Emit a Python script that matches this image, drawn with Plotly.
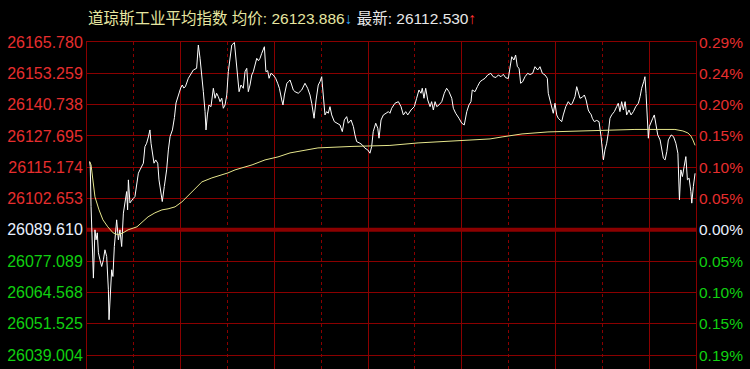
import plotly.graph_objects as go

# ---------------- data ----------------
index_name = "道琼斯工业平均指数"
prev_close = 26089.610
grid_step = 12.695
last_avg = 26123.886
last_price = 26112.530

# minutes since the 09:30 open (0..390)
price_minutes = [
    1.7, 2.1, 2.6, 3.4, 4.1, 5.1, 5.8, 6.6, 7.3, 8.3, 9.4, 10.5, 11.5, 12.6, 13.7, 14.1, 15.0, 15.8, 16.6, 17.5,
    19.0, 20.1, 21.1, 22.2, 23.3, 24.3, 25.4, 26.0, 26.5, 27.5, 28.6, 29.7, 30.7, 31.8, 32.9, 33.9, 35.0, 36.1,
    37.1, 38.2, 39.3, 40.3, 41.0, 41.8, 42.9, 44.0, 45.3, 46.1, 47.4, 48.2, 49.5, 51.0, 52.1, 53.2, 54.7, 56.0,
    57.0, 58.0, 59.0, 60.0, 61.0, 62.0, 63.0,
    64.9, 66.0, 68.1, 70.2, 71.3, 72.4, 73.4, 74.5, 75.6, 76.2, 77.1, 78.1, 79.4, 80.9, 82.0, 83.0, 84.1, 85.2,
    86.3, 87.3, 88.4, 89.5, 90.5, 91.6, 92.7, 94.4, 95.2, 96.5, 97.4, 98.6, 100.1, 101.2, 102.3, 103.3, 104.4,
    105.5, 106.5, 107.6, 108.7, 109.8, 110.8, 111.9, 113.6, 114.6, 115.7, 116.6, 117.8, 119.3, 120.8, 122.1,
    123.2, 124.7, 125.5, 126.4, 128.0, 129.0, 130.0,
    131.1, 132.1, 133.2, 135.3, 137.5, 139.6, 141.3, 142.8, 143.9, 145.4, 146.7, 148.1, 149.2, 150.3, 151.3,
    152.4, 153.5, 154.5, 155.6, 156.7, 158.4, 160.5, 162.0, 163.5, 164.8, 166.3, 167.3, 169.1, 170.6, 171.6,
    172.7, 174.8, 176.3, 178.0, 179.8, 181.2, 182.3, 183.3, 184.9, 186.2, 187.0, 188.3, 189.8, 191.5, 193.0, 194.0,
    195.1, 197.2, 199.4, 201.1, 202.6, 204.1, 205.4, 207.5, 209.6, 211.1, 212.6, 213.9, 214.7, 215.8, 216.9,
    218.2, 219.7, 220.7, 221.8, 222.9, 224.0, 225.4, 227.2, 228.8, 230.3, 231.8, 233.6, 234.6, 236.1, 238.2,
    240.0, 241.6, 243.2, 244.6, 245.9, 246.7, 248.5, 250.0, 251.7, 253.2, 254.9, 256.6,
    258.6, 260.1, 261.9, 263.4, 265.1, 266.6, 268.1, 269.8, 270.9, 272.0, 273.4, 274.5, 275.6, 276.7, 277.7,
    279.0, 280.5, 282.2, 283.7, 285.4, 286.9, 288.6, 290.1, 291.6, 293.3, 294.8, 295.4, 296.5, 297.6, 298.6,
    299.7, 300.8, 301.8, 302.9, 304.0, 305.0, 306.6, 308.2, 309.8, 310.8, 312.5, 313.6, 314.6, 315.7, 317.2,
    318.5, 319.6, 321.0, 322.1,
    322.8, 323.6, 324.9, 326.4, 327.9, 329.2, 330.0, 330.7, 331.7, 332.8, 333.8, 334.9, 336.0, 337.7, 339.2,
    340.2, 341.3, 342.4, 343.5, 344.6, 345.6, 347.1, 348.4, 349.9, 351.4, 353.1, 354.2, 355.2, 356.5, 357.3,
    358.0, 358.8, 359.5, 360.1, 361.2, 362.3, 363.3, 364.2, 365.5, 367.0, 368.1, 369.1, 370.2, 371.3, 372.3,
    374.1, 375.6, 377.1, 378.4, 379.4, 380.3, 381.3, 382.4, 383.5, 384.5, 385.6, 386.7, 387.3, 388.3, 389.4,
]
price_values = [
    26117.28, 26115.26, 26099.05, 26077.45, 26070.03, 26089.61, 26085.56, 26088.39, 26080.29, 26077.45,
    26074.74, 26077.45, 26081.51, 26078.79, 26065.30, 26053.14, 26063.96, 26073.40, 26070.69, 26082.84,
    26093.66, 26085.56, 26089.61, 26082.84, 26096.38, 26100.43, 26105.13, 26097.71, 26109.87, 26100.55,
    26101.77, 26102.40, 26103.10, 26108.65, 26112.58, 26113.92, 26115.26, 26116.64, 26123.36, 26124.74,
    26127.29, 26130.13, 26124.74, 26120.69, 26116.64, 26117.97, 26116.64, 26109.87, 26104.48, 26101.08,
    26107.16, 26113.92, 26122.03, 26127.41, 26130.13, 26135.20, 26141.07, 26143.50, 26145.12, 26147.15,
    26148.36, 26147.15, 26147.68,
    26151.08, 26152.42, 26154.44, 26155.12, 26164.57, 26159.18, 26151.08, 26145.65, 26137.55, 26130.13,
    26136.21, 26140.26, 26139.57, 26147.03, 26142.97, 26145.00, 26143.62, 26141.60, 26142.97, 26138.92,
    26140.26, 26144.31, 26153.75, 26160.52, 26164.57, 26165.60, 26160.52, 26151.08, 26145.65, 26148.36,
    26147.03, 26153.75, 26155.12, 26145.65, 26148.36, 26152.42, 26153.75, 26156.47, 26159.18, 26158.20,
    26159.18, 26161.21, 26163.88, 26153.75, 26154.20, 26151.08, 26153.10, 26152.42, 26151.08, 26149.05,
    26147.03, 26142.29, 26140.26, 26144.31, 26149.05, 26149.70, 26150.39,
    26148.36, 26146.34, 26145.65, 26145.00, 26146.34, 26149.05, 26147.03, 26144.31, 26140.95, 26134.87,
    26142.29, 26148.36, 26149.70, 26151.73, 26144.31, 26136.21, 26137.55, 26136.89, 26139.57, 26136.21,
    26133.49, 26132.85, 26132.16, 26129.44, 26134.18, 26135.52, 26132.85, 26134.18, 26131.47, 26128.10,
    26125.39, 26124.74, 26124.05, 26122.71, 26122.03, 26120.69, 26123.36, 26129.44, 26132.85, 26130.82,
    26126.77, 26134.18, 26136.21, 26136.89, 26137.55, 26136.89,
    26138.92, 26140.95, 26141.60, 26139.57, 26136.21, 26137.55, 26136.21, 26138.23, 26139.57, 26142.97,
    26146.34, 26145.00, 26147.03, 26142.97, 26147.03, 26142.29, 26139.57, 26141.60, 26138.23, 26141.60,
    26139.57, 26140.26, 26141.60, 26145.00, 26147.03, 26145.65, 26142.97, 26138.92, 26136.89, 26134.87,
    26132.85, 26132.16, 26137.55, 26140.26, 26141.60, 26146.34, 26145.65, 26147.68, 26149.70, 26150.39,
    26151.08, 26152.42,
    26153.10, 26151.73, 26151.40, 26152.42, 26151.73, 26152.70, 26151.32, 26151.00, 26155.12, 26159.83,
    26158.49, 26160.52, 26155.78, 26155.12, 26149.05, 26149.70, 26151.73, 26153.10, 26152.60, 26153.10,
    26155.78, 26154.44, 26155.78, 26153.10, 26152.42, 26151.08, 26145.00, 26142.29, 26140.26, 26136.89,
    26140.95, 26136.21, 26134.87, 26134.18, 26133.49, 26136.21, 26139.57, 26141.60, 26140.26, 26140.95,
    26143.62, 26147.68, 26145.00, 26142.97, 26143.40, 26144.31, 26142.29, 26138.23, 26136.89,
    26136.50, 26134.87, 26133.49, 26134.00, 26133.49, 26127.41, 26123.36, 26117.97, 26122.03, 26124.74,
    26128.79, 26134.87, 26136.21, 26137.55, 26139.57, 26140.95, 26137.55, 26141.60, 26138.23, 26141.60,
    26136.21, 26138.23, 26136.21, 26137.55, 26139.57, 26140.95, 26143.62, 26147.03, 26149.70, 26151.73,
    26145.00, 26134.87, 26126.77, 26131.47, 26132.85, 26134.87, 26136.21, 26132.16, 26128.10, 26126.08,
    26122.03, 26118.66, 26117.97, 26121.34, 26126.08, 26128.10, 26127.41, 26124.74, 26120.69, 26101.77,
    26113.92, 26111.21, 26115.26, 26119.31, 26109.87, 26110.56, 26105.13, 26100.43, 26107.16, last_price,
]

avg_minutes = [
    1.7, 2.6, 5.1, 7.7, 10.2, 13.3, 16.7, 19.9, 23.1, 26.3, 32.0, 35.9, 39.1, 43.5, 48.0, 51.9, 56.4, 60.8,
    64.0, 67.2, 73.6, 80.0, 90.3, 94.8, 105.7, 114.0, 122.3, 130.0, 147.9, 169.7, 194.0, 212.0, 233.7,
    258.1, 265.8, 278.6, 295.2, 313.8, 328.5, 350.9, 376.5, 381.6, 384.8, 386.7, 388.0, 389.4,
]
avg_values = [
    26117.28, 26115.95, 26102.98, 26097.71, 26093.66, 26090.83, 26088.39, 26087.58, 26088.39, 26089.61,
    26090.83, 26092.85, 26094.88, 26096.50, 26097.71, 26098.12, 26098.93, 26100.96, 26102.98, 26105.01,
    26109.06, 26110.68, 26112.71, 26113.92, 26115.95, 26117.97, 26119.19, 26120.81, 26122.84, 26123.44,
    26123.85, 26124.86, 26125.67, 26126.48, 26127.29, 26128.51, 26129.32, 26129.72, 26129.93, 26130.33,
    26130.33, 26129.72, 26128.91, 26127.70, 26126.08, last_avg,
]

left_tick_labels = ["26165.780", "26153.259", "26140.738", "26127.695", "26115.174", "26102.653",
                    "26089.610", "26077.089", "26064.568", "26051.525", "26039.004"]
right_tick_labels = ["0.29%", "0.24%", "0.20%", "0.15%", "0.10%", "0.05%",
                     "0.00%", "0.05%", "0.10%", "0.15%", "0.19%"]
grid_steps = [6, 5, 4, 3, 2, 1, 0, -1, -2, -3, -4]

# ---------------- style ----------------
RED = "#e62e2e"
GREEN = "#10d010"
FLAT = "#e8f0ff"
GRID = "#8a0000"
FONT = "Liberation Sans, Arial, Noto Sans CJK SC, sans-serif"

tick_vals = [prev_close + k * grid_step for k in grid_steps]
tick_colors = [RED if k > 0 else (FLAT if k == 0 else GREEN) for k in grid_steps]
left_text = [f'<span style="color:{c}">{t}</span>' for t, c in zip(left_tick_labels, tick_colors)]

fig = go.Figure()
fig.add_trace(go.Scatter(x=price_minutes, y=price_values, mode="lines",
                         line=dict(color="#ffffff", width=1), hoverinfo="skip", showlegend=False))
fig.add_trace(go.Scatter(x=avg_minutes, y=avg_values, mode="lines",
                         line=dict(color="#e6e68c", width=1), hoverinfo="skip", showlegend=False))

y_bottom = prev_close - 4 * grid_step - 14 * grid_step / 31.33
y_top = prev_close + 6 * grid_step + 0.02

fig.add_shape(type="line", xref="paper", x0=0, x1=1, yref="y", y0=prev_close, y1=prev_close,
              line=dict(color="#8c0000", width=4), layer="below")

annotations = []
for v, t, c in zip(tick_vals, right_tick_labels, tick_colors):
    annotations.append(dict(xref="paper", x=1, xanchor="left", xshift=1, yref="y", y=v,
                            yanchor="middle", text=t, showarrow=False,
                            font=dict(family=FONT, size=15.5, color=c)))

title_html = (f'<span style="color:#e6e6a0">{index_name} 均价: {last_avg:.3f}</span>'
              f'<span style="color:#30a8ff">↓</span>'
              f'<span style="color:#e8e8e8"> 最新: {last_price:.3f}</span>'
              f'<span style="color:#ff3030">↑</span>')
annotations.append(dict(xref="paper", x=0, xanchor="left", xshift=-1, yref="paper", y=1,
                        yanchor="middle", yshift=24, text=title_html, showarrow=False,
                        font=dict(family=FONT, size=15.5)))

fig.update_layout(
    width=750, height=369,
    margin=dict(l=87, r=54, t=42, b=0, pad=0),
    paper_bgcolor="#000000", plot_bgcolor="#000000",
    annotations=annotations,
    xaxis=dict(range=[0, 390], tick0=0, dtick=60, showticklabels=False, ticks="",
               showgrid=True, gridcolor=GRID, gridwidth=1, zeroline=False,
               showline=True, linecolor=GRID, linewidth=1, side="top",
               minor=dict(tick0=0, dtick=30, showgrid=True, gridcolor=GRID, gridwidth=1, griddash="dot")),
    yaxis=dict(range=[y_bottom, y_top], tickmode="array", tickvals=tick_vals, ticktext=left_text,
               ticks="", showgrid=True, gridcolor=GRID, gridwidth=1, zeroline=False,
               showline=True, mirror=True, linecolor=GRID, linewidth=1,
               tickfont=dict(family=FONT, size=16)),
    showlegend=False,
)

fig.write_html("out.html")
